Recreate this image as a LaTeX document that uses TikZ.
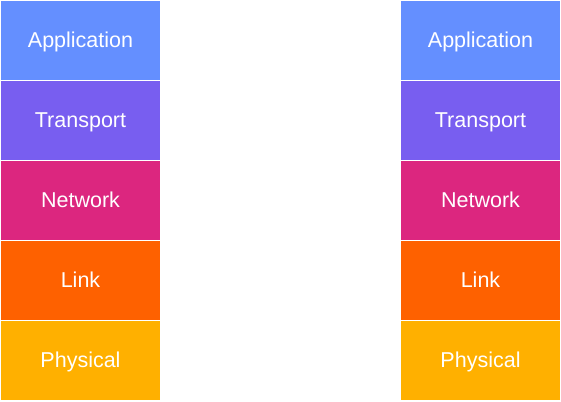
\documentclass[tikz,border=0pt]{standalone}
\usepackage{fontspec}
\setmainfont{Liberation Sans}
\definecolor{appc}{HTML}{648FFF}
\definecolor{trac}{HTML}{785EF0}
\definecolor{netc}{HTML}{DC267F}
\definecolor{linc}{HTML}{FE6100}
\definecolor{phyc}{HTML}{FFB000}
\begin{document}
\begin{tikzpicture}[x=1pt,y=-1pt,
  layer/.style={draw=white,line width=1pt,minimum width=160pt,minimum height=80pt,
    inner sep=0pt,text height=17pt,text depth=3.6pt,text=white,
    font=\fontsize{21.5}{24}\selectfont,anchor=north west}]
\useasboundingbox[fill=white] (0,0) rectangle (561,401);
% left protocol stack
\node[layer,fill=appc] (la) at (0,0) {Application};
\node[layer,fill=trac] (lt) at (0,80) {Transport};
\node[layer,fill=netc] (ln) at (0,160) {Network};
\node[layer,fill=linc] (ll) at (0,240) {Link};
\node[layer,fill=phyc] (lp) at (0,320) {Physical};
% right protocol stack
\node[layer,fill=appc] (ra) at (400,0) {Application};
\node[layer,fill=trac] (rt) at (400,80) {Transport};
\node[layer,fill=netc] (rn) at (400,160) {Network};
\node[layer,fill=linc] (rl) at (400,240) {Link};
\node[layer,fill=phyc] (rp) at (400,320) {Physical};
\end{tikzpicture}
\end{document}
